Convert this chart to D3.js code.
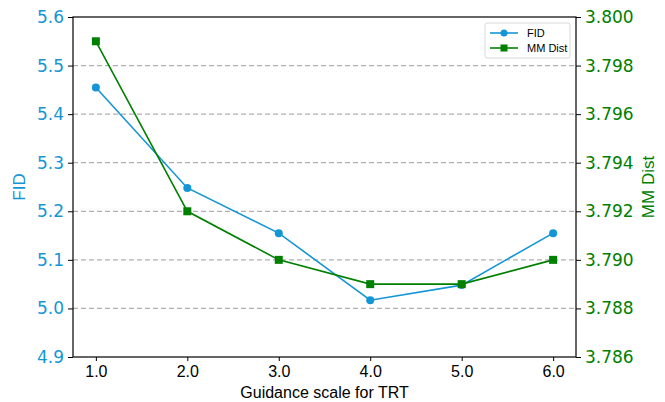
<!DOCTYPE html>
<html>
<head>
<meta charset="utf-8">
<script src="https://cdn.jsdelivr.net/npm/d3@7"></script>
<style>
  body { margin: 0; background: #fff; }
</style>
</head>
<body>
<div id="chart"></div>
<script>
// data
var guidance = [1.0, 2.0, 3.0, 4.0, 5.0, 6.0];
var fidValues = [5.455, 5.248, 5.155, 5.017, 5.048, 5.155];
var mmDistValues = [3.799, 3.792, 3.790, 3.789, 3.789, 3.790];
var fidTicks = [4.9, 5.0, 5.1, 5.2, 5.3, 5.4, 5.5, 5.6];
var mmTicks = [3.786, 3.788, 3.790, 3.792, 3.794, 3.796, 3.798, 3.800];

var svgWidth = 665;
var svgHeight = 402;
var margin = { top: 17, right: 89, bottom: 45, left: 73 };
var width = svgWidth - margin.left - margin.right;
var height = svgHeight - margin.top - margin.bottom;

var blue = "#1496d6";
var green = "#008000";

var svg = d3.select("#chart").append("svg")
  .attr("width", svgWidth)
  .attr("height", svgHeight);

var chartGroup = svg.append("g")
  .attr("transform", `translate(${margin.left}, ${margin.top})`);

// scales (x padded 5% like matplotlib)
var xScale = d3.scaleLinear().domain([0.75, 6.25]).range([0, width]);
var yLeft = d3.scaleLinear().domain([4.9, 5.6]).range([height, 0]);
var yRight = d3.scaleLinear().domain([3.786, 3.800]).range([height, 0]);

// dashed grid from the left axis
chartGroup.append("g")
  .selectAll("line")
  .data(fidTicks.slice(1, -1))
  .enter()
  .append("line")
  .attr("x1", 0)
  .attr("x2", width)
  .attr("y1", d => yLeft(d))
  .attr("y2", d => yLeft(d))
  .attr("stroke", "#b0b0b0")
  .attr("stroke-width", 1.2)
  .attr("stroke-dasharray", "5,3");

// axes
var bottomAxis = d3.axisBottom(xScale).tickValues(guidance).tickFormat(d3.format(".1f")).tickSize(4).tickPadding(5);
var leftAxis = d3.axisLeft(yLeft).tickValues(fidTicks).tickFormat(d3.format(".1f")).tickSize(5).tickPadding(4);
var rightAxis = d3.axisRight(yRight).tickValues(mmTicks).tickFormat(d3.format(".3f")).tickSize(5).tickPadding(4);

var xAxis = chartGroup.append("g")
  .attr("transform", `translate(0, ${height})`)
  .call(bottomAxis);
xAxis.select(".domain").remove();
xAxis.selectAll("text")
  .attr("font-family", "Liberation Sans, Arial, sans-serif")
  .attr("font-size", "16px")
  .attr("fill", "#000");

var yAxisL = chartGroup.append("g").call(leftAxis);
yAxisL.select(".domain").remove();
yAxisL.selectAll("text")
  .attr("font-family", "DejaVu Sans, sans-serif")
  .attr("font-size", "17px")
  .attr("fill", blue);

var yAxisR = chartGroup.append("g")
  .attr("transform", `translate(${width}, 0)`)
  .call(rightAxis);
yAxisR.select(".domain").remove();
yAxisR.selectAll("text")
  .attr("font-family", "DejaVu Sans, sans-serif")
  .attr("font-size", "17px")
  .attr("fill", green);

// frame
chartGroup.append("rect")
  .attr("width", width)
  .attr("height", height)
  .attr("fill", "none")
  .attr("stroke", "#000")
  .attr("stroke-width", 1.2);

// FID line
var fidLine = d3.line()
  .x((d, i) => xScale(guidance[i]))
  .y(d => yLeft(d));

chartGroup.append("path")
  .datum(fidValues)
  .attr("d", fidLine)
  .attr("fill", "none")
  .attr("stroke", blue)
  .attr("stroke-width", 1.6);

chartGroup.selectAll(".fidDot")
  .data(fidValues)
  .enter()
  .append("circle")
  .attr("cx", (d, i) => xScale(guidance[i]))
  .attr("cy", d => yLeft(d))
  .attr("r", 4)
  .attr("fill", blue);

// MM Dist line
var mmLine = d3.line()
  .x((d, i) => xScale(guidance[i]))
  .y(d => yRight(d));

chartGroup.append("path")
  .datum(mmDistValues)
  .attr("d", mmLine)
  .attr("fill", "none")
  .attr("stroke", green)
  .attr("stroke-width", 1.6);

chartGroup.selectAll(".mmDot")
  .data(mmDistValues)
  .enter()
  .append("rect")
  .attr("x", (d, i) => xScale(guidance[i]) - 4)
  .attr("y", d => yRight(d) - 4)
  .attr("width", 8)
  .attr("height", 8)
  .attr("fill", green);

// axis labels
chartGroup.append("text")
  .attr("x", width / 2)
  .attr("y", height + 41)
  .attr("text-anchor", "middle")
  .attr("font-family", "Liberation Sans, Arial, sans-serif")
  .attr("font-size", "16px")
  .text("Guidance scale for TRT");

chartGroup.append("text")
  .attr("transform", `translate(${-48}, ${height / 2}) rotate(-90)`)
  .attr("text-anchor", "middle")
  .attr("font-family", "Liberation Sans, Arial, sans-serif")
  .attr("font-size", "17px")
  .attr("fill", blue)
  .text("FID");

chartGroup.append("text")
  .attr("transform", `translate(${width + 78}, ${height / 2}) rotate(-90)`)
  .attr("text-anchor", "middle")
  .attr("font-family", "Liberation Sans, Arial, sans-serif")
  .attr("font-size", "17px")
  .attr("fill", green)
  .text("MM Dist");

// legend
var legend = chartGroup.append("g")
  .attr("transform", `translate(${width - 91}, 6)`);

legend.append("rect")
  .attr("width", 85)
  .attr("height", 35)
  .attr("rx", 2)
  .attr("fill", "#fff")
  .attr("stroke", "#d8d8d8");

var legendItems = [
  { name: "FID", color: blue, shape: "circle" },
  { name: "MM Dist", color: green, shape: "square" }
];

legendItems.forEach(function(item, i) {
  var y = 10 + i * 15;
  legend.append("line")
    .attr("x1", 5).attr("x2", 33)
    .attr("y1", y).attr("y2", y)
    .attr("stroke", item.color)
    .attr("stroke-width", 1.6);
  if (item.shape === "circle") {
    legend.append("circle").attr("cx", 19).attr("cy", y).attr("r", 3.5).attr("fill", item.color);
  } else {
    legend.append("rect").attr("x", 15.5).attr("y", y - 3.5).attr("width", 7).attr("height", 7).attr("fill", item.color);
  }
  legend.append("text")
    .attr("x", 42)
    .attr("y", y + 4)
    .attr("font-family", "Liberation Sans, Arial, sans-serif")
    .attr("font-size", "11px")
    .text(item.name);
});
</script>
</body>
</html>
